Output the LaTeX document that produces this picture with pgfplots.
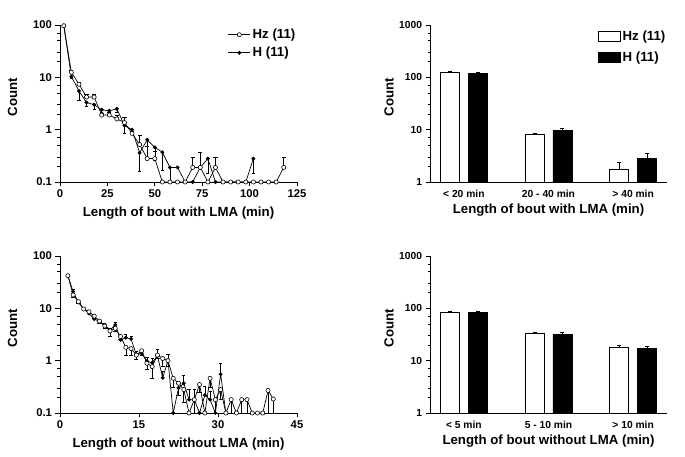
\documentclass[border=0pt]{standalone}
\usepackage{fontspec}
\setmainfont{Liberation Sans}
\usepackage{pgfplots}
\pgfplotsset{compat=1.18}

\newcommand{\tickL}{\fontsize{11.3}{13}\selectfont\bfseries}
\newcommand{\tickR}{\fontsize{10.3}{12}\selectfont\bfseries}
\newcommand{\labf}{\fontsize{13.3}{15}\selectfont\bfseries}

\tikzset{
  hzline/.style={black, line width=0.7bp, mark=*, mark size=2.1bp,
    mark options={fill=white, draw=black, line width=0.6bp, solid}},
  hhline/.style={black, line width=0.7bp, mark=*, mark size=1.6bp,
    mark options={fill=black, draw=black, solid}},
}

\pgfplotsset{
  every axis/.append style={
    scale only axis, width=237bp, height=157bp, anchor=south west,
    axis lines*=left, clip=false,
    axis line style={line width=0.8bp},
    tick style={black, line width=0.8bp},
    tick align=outside,
    major tick length=4.5bp, minor tick length=2.5bp,
    label style={font=\labf},
    legend style={draw=none, fill=none, font=\labf,
      at={(1.015,1.0)}, anchor=north east},
    legend cell align=left,
    error bars/error bar style={line width=0.6bp},
  },
}

\begin{document}
\begin{tikzpicture}
\useasboundingbox (0,0) rectangle (685bp,457bp);

% top left: bouts with LMA
\begin{axis}[at={(60bp,275bp)}, ymode=log,
  ymin=0.1, ymax=100,
  ytick={0.1,1,10,100}, yticklabels={0.1,1,10,100},
  minor ytick={0.2,0.3,0.5,0.7,2,3,5,7,20,30,50,70},
  ticklabel style={font=\tickL},
  ylabel style={at={(axis description cs:-0.2,0.54)}, anchor=center},
  xlabel style={at={(axis description cs:0.5,-0.2)}, anchor=center},
  xmin=0, xmax=125, xtick={0,25,50,75,100,125},
  xticklabels={0,25,50,75,100,125},
  xlabel={Length of bout with LMA (min)}, ylabel={Count},
  reverse legend, legend style={row sep=3bp},
  legend image code/.code={
    \draw[mark repeat=2,mark phase=2,#1] plot coordinates {(0bp,0bp) (11bp,0bp) (22bp,0bp)};}]
\addplot[hhline, error bars/.cd, y dir=minus, y explicit]
  table[x index=0, y index=1, y error index=2, row sep=\\] {
2 97 0\\ 6 10.3 0.6\\ 10 5.5 1.8\\ 14 3.3 0.5\\ 18 3.0 0.5\\ 22 2.4 0.2\\
26 2.3 0.2\\ 30 2.5 0.3\\ 34 1.2 0.35\\ 38 1.0 0.15\\ 42 0.36 0.2\\
46 0.64 0.15\\ 50 0.46 0.2\\ 54 0.37 0.2\\ 58 0.19 0.09\\ 62 0.19 0\\
66 0.1 0\\ 70 0.1 0\\ 74 0.19 0\\ 78 0.28 0.13\\ 82 0.1 0\\ 86 0.1 0\\
90 0.1 0\\ 94 0.1 0\\ 98 0.1 0\\ 102 0.28 0.13\\
};
\addlegendentry{H (11)}
\addplot[hzline, error bars/.cd, y dir=plus, y explicit]
  table[x index=0, y index=1, y error index=2, row sep=\\] {
2 97 0\\ 6 12.5 1.2\\ 10 7.4 0.8\\ 14 4.2 0.5\\ 18 4.2 0.6\\ 22 1.9 0.2\\
26 1.9 0.3\\ 30 1.6 0.3\\ 34 1.37 0.35\\ 38 0.85 0.1\\ 42 0.52 0.25\\
46 0.28 0.2\\ 50 0.28 0.1\\ 54 0.1 0\\ 58 0.1 0\\ 62 0.1 0\\ 66 0.1 0\\
70 0.19 0.11\\ 74 0.19 0.18\\ 78 0.1 0\\ 82 0.19 0.11\\ 86 0.1 0\\
90 0.1 0\\ 94 0.1 0\\ 98 0.1 0\\ 102 0.1 0\\ 106 0.1 0\\ 110 0.1 0\\
114 0.1 0\\ 118 0.19 0.11\\
};
\addlegendentry{Hz (11)}
\end{axis}

% bottom left: bouts without LMA
\begin{axis}[at={(60bp,44bp)}, ymode=log,
  ymin=0.1, ymax=100,
  ytick={0.1,1,10,100}, yticklabels={0.1,1,10,100},
  minor ytick={0.2,0.3,0.5,0.7,2,3,5,7,20,30,50,70},
  ticklabel style={font=\tickL},
  ylabel style={at={(axis description cs:-0.2,0.54)}, anchor=center},
  xlabel style={at={(axis description cs:0.5,-0.2)}, anchor=center},
  xmin=0, xmax=45, xtick={0,15,30,45}, xticklabels={0,15,30,45},
  xlabel={Length of bout without LMA (min)}, ylabel={Count}]
\addplot[hhline, error bars/.cd, y dir=plus, y explicit]
  table[x index=0, y index=1, y error index=2, row sep=\\] {
1.5 42 0\\ 2.5 20.8 2\\ 3.5 13 1\\ 4.5 9.7 0.7\\ 5.5 8.0 0.6\\
6.5 6.25 0.5\\ 7.5 5.6 0.5\\ 8.5 4.8 0.4\\ 9.5 3.85 0.4\\ 10.5 4.8 0.6\\
11.5 2.5 0.3\\ 12.5 2.75 0.4\\ 13.5 2.6 0.3\\ 14.5 1.3 0.2\\ 15.5 1.38 0.3\\
16.5 0.98 0.2\\ 17.5 0.91 0.2\\ 18.5 1.25 0.4\\ 19.5 0.47 0.15\\ 20.5 1.0 0.35\\
21.5 0.1 0\\ 22.5 0.30 0.1\\ 23.5 0.37 0.15\\ 24.5 0.18 0.1\\ 25.5 0.18 0.1\\
26.5 0.1 0\\ 27.5 0.22 0.1\\ 28.5 0.18 0.08\\ 29.5 0.1 0\\ 30.5 0.55 0.35\\
31.5 0.1 0\\
};
\addplot[hzline, error bars/.cd, y dir=minus, y explicit]
  table[x index=0, y index=1, y error index=2, row sep=\\] {
1.5 42 0\\ 2.5 18 1.5\\ 3.5 13.4 1\\ 4.5 9.7 0.6\\ 5.5 8.6 0.6\\
6.5 7.1 0.5\\ 7.5 5.7 0.5\\ 8.5 4.6 0.4\\ 9.5 3.7 0.8\\ 10.5 4.15 0.5\\
11.5 2.9 0.3\\ 12.5 1.8 0.5\\ 13.5 1.7 0.4\\ 14.5 1.28 0.2\\ 15.5 1.55 0.3\\
16.5 0.89 0.2\\ 17.5 0.77 0.3\\ 18.5 1.28 0.15\\ 19.5 1.1 0.3\\ 20.5 1.0 0.2\\
21.5 0.46 0.15\\ 22.5 0.37 0.15\\ 23.5 0.28 0.12\\ 24.5 0.1 0\\ 25.5 0.18 0.08\\
26.5 0.35 0.1\\ 27.5 0.1 0\\ 28.5 0.46 0.15\\ 29.5 0.18 0.08\\ 30.5 0.28 0.1\\
31.5 0.1 0\\ 32.5 0.18 0.08\\ 33.5 0.1 0\\ 34.5 0.18 0.08\\ 35.5 0.18 0.08\\
36.5 0.1 0\\ 37.5 0.1 0\\ 38.5 0.1 0\\ 39.5 0.27 0.17\\ 40.5 0.185 0.085\\
};
\end{axis}

% top right: bars, with LMA
\begin{axis}[at={(430bp,275bp)}, ymode=log,
  ymin=1, ymax=1000, xmin=-0.4, xmax=2.4,
  ytick={1,10,100,1000}, yticklabels={1,10,100,1000},
  minor ytick={2,3,5,7,20,30,50,70,200,300,500,700},
  xtick={0,1,2}, major x tick style={draw=none},
  ticklabel style={font=\tickR},
  ylabel style={at={(axis description cs:-0.173,0.54)}, anchor=center},
  xlabel style={at={(axis description cs:0.5,-0.178)}, anchor=center},
  ybar, bar width=0.224,
  xticklabels={{< 20 min},{20 - 40 min},{> 40 min}},
  xlabel={Length of bout with LMA (min)}, ylabel={Count},
  legend style={row sep=6bp, at={(1.015,0.99)}},
  legend image code/.code={\draw[#1] (0bp,-5bp) rectangle (22bp,5bp);}]
\addplot[fill=white, draw=black, line width=0.9bp, bar shift=-0.165,
  error bars/.cd, y dir=plus, y explicit]
  coordinates {(0,123) +- (0,7) (1,8.0) +- (0,0.7) (2,1.72) +- (0,0.63)};
\addlegendentry{Hz (11)}
\addplot[fill=black, draw=black, line width=0.9bp, bar shift=0.165,
  error bars/.cd, y dir=plus, y explicit]
  coordinates {(0,119) +- (0,7) (1,9.6) +- (0,1.0) (2,2.84) +- (0,0.65)};
\addlegendentry{H (11)}
\end{axis}

% bottom right: bars, without LMA
\begin{axis}[at={(430bp,44bp)}, ymode=log,
  ymin=1, ymax=1000, xmin=-0.4, xmax=2.4,
  ytick={1,10,100,1000}, yticklabels={1,10,100,1000},
  minor ytick={2,3,5,7,20,30,50,70,200,300,500,700},
  xtick={0,1,2}, major x tick style={draw=none},
  ticklabel style={font=\tickR},
  ylabel style={at={(axis description cs:-0.173,0.54)}, anchor=center},
  xlabel style={at={(axis description cs:0.5,-0.178)}, anchor=center},
  ybar, bar width=0.224,
  xticklabels={{< 5 min},{5 - 10 min},{> 10 min}},
  xlabel={Length of bout without LMA (min)}, ylabel={Count}]
\addplot[fill=white, draw=black, line width=0.9bp, bar shift=-0.165,
  error bars/.cd, y dir=plus, y explicit]
  coordinates {(0,82.6) +- (0,6) (1,32.8) +- (0,1.5) (2,18.0) +- (0,1.9)};
\addplot[fill=black, draw=black, line width=0.9bp, bar shift=0.165,
  error bars/.cd, y dir=plus, y explicit]
  coordinates {(0,82.6) +- (0,5.5) (1,31.8) +- (0,2.9) (2,17.4) +- (0,1.8)};
\end{axis}
\end{tikzpicture}
\end{document}
